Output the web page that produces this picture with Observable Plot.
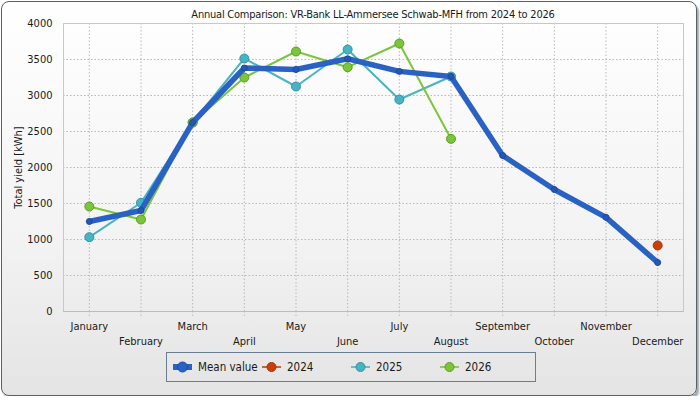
<!DOCTYPE html>
<html>
<head>
<meta charset="utf-8">
<script src="https://cdn.jsdelivr.net/npm/d3@7"></script>
<script src="https://cdn.jsdelivr.net/npm/@observablehq/plot@0.6"></script>
<style>
  html, body { margin: 0; padding: 0; background: #ffffff; }
  #frame {
    position: relative; width: 696px; height: 395px; margin: 1px 0 0 1px;
    border: 1px solid #56616c; border-radius: 8px; box-sizing: border-box;
    background: linear-gradient(#ffffff 0%, #f3f3f3 60%, #e4e4e4 100%);
    box-shadow: 2px 3px 2px rgba(0,0,0,0.35);
    font-family: "DejaVu Sans Condensed", "DejaVu Sans", sans-serif;
    overflow: hidden;
  }
  #chart { position: absolute; left: -2px; top: -2px; width: 700px; height: 400px; }
  #chart svg { max-width: none; }
  #title { position: absolute; left: 61px; width: 620px; top: 6px; text-align: center;
    font-size: 11px; letter-spacing: -0.22px; color: #1a1a1a; }
  #legend { position: absolute; left: 164px; top: 350px; width: 370px; height: 30px;
    border: 1px solid #6b7e91; box-sizing: border-box; }
  .item { position: absolute; top: 0; height: 28px; display: flex; align-items: center;
    font-size: 11.5px; color: #1a1a1a; }
  .item svg { margin-right: 6px; }
</style>
</head>
<body>
<div id="frame">
  <div id="chart"></div>
  <div id="title"></div>
  <div id="legend"></div>
</div>
<script>
const titleText = "Annual Comparison: VR-Bank LL-Ammersee Schwab-MFH from 2024 to 2026";
const yLabel = "Total yield [kWh]";
const months = ["January","February","March","April","May","June","July","August","September","October","November","December"];
const meanValues = [1250, 1403, 2625, 3382, 3361, 3510, 3335, 3265, 2167, 1695, 1308, 680];
const values2024 = [null, null, null, null, null, null, null, null, null, null, null, 917];
const values2025 = [1032, 1510, 2625, 3514, 3125, 3639, 2944, 3264, null, null, null, null];
const values2026 = [1458, 1278, 2625, 3250, 3611, 3393, 3722, 2398, null, null, null, null];
const yTicks = [0, 500, 1000, 1500, 2000, 2500, 3000, 3500, 4000];

const seriesNames = ["Mean value", "2024", "2025", "2026"];
const colors = {"Mean value": "#2a62c4", "2024": "#c8400a", "2025": "#48b3c3", "2026": "#7bc53a"};
const strokes = {"Mean value": "#1d4a9c", "2024": "#a8340a", "2025": "#3492a2", "2026": "#5b9e22"};

function rows(vals, name) {
  return vals.map((v, i) => ({month: months[i], value: v, series: name})).filter(d => d.value != null);
}
const mean = rows(meanValues, "Mean value");
const s2024 = rows(values2024, "2024");
const s2025 = rows(values2025, "2025");
const s2026 = rows(values2026, "2026");

const oddMonths = months.filter((m, i) => i % 2 === 0);
const evenMonths = months.filter((m, i) => i % 2 === 1);

const W = 700, H = 400, ML = 63, MR = 17, MT = 23, MB = 89;

const plot = Plot.plot({
  width: W, height: H,
  marginLeft: ML, marginRight: MR, marginTop: MT, marginBottom: MB,
  style: {background: "transparent", fontFamily: "'DejaVu Sans Condensed', 'DejaVu Sans', sans-serif", fontSize: "11px", color: "#1a1a1a", overflow: "visible"},
  x: {type: "point", domain: months, range: [ML, W - MR], padding: 0.5, align: 0.5, inset: 0, round: false, label: null},
  y: {domain: [0, 4000], label: null},
  marks: [
    Plot.gridY(yTicks, {stroke: "#b8b8b8", strokeOpacity: 1, strokeDasharray: "1.5,2"}),
    Plot.gridX(months, {stroke: "#b8b8b8", strokeOpacity: 1, strokeDasharray: "1.5,2"}),
    Plot.axisX({ticks: months, tickSize: 7, tickFormat: () => "", label: null, stroke: "#bdbdbd", strokeDasharray: "1.5,2"}),
    Plot.frame({stroke: "#c8c8c8"}),
    Plot.ruleY([0], {stroke: "#bcbcbc"}),
    Plot.axisY({ticks: yTicks, tickSize: 0, tickPadding: 11, tickFormat: d => String(d), label: yLabel, labelAnchor: "center", labelArrow: "none", labelOffset: 49, fontSize: 11}),
    Plot.axisX({ticks: oddMonths, tickSize: 0, tickPadding: 11, label: null, fontSize: 11}),
    Plot.axisX({ticks: evenMonths, tickSize: 0, tickPadding: 26, label: null, fontSize: 11}),
    // 2025
    Plot.line(s2025, {x: "month", y: "value", stroke: colors["2025"], strokeWidth: 2}),
    Plot.dot(s2025, {x: "month", y: "value", r: 4.5, fill: colors["2025"], stroke: strokes["2025"], strokeWidth: 1}),
    // 2026
    Plot.line(s2026, {x: "month", y: "value", stroke: colors["2026"], strokeWidth: 2}),
    Plot.dot(s2026, {x: "month", y: "value", r: 4.5, fill: colors["2026"], stroke: strokes["2026"], strokeWidth: 1}),
    // 2024
    Plot.dot(s2024, {x: "month", y: "value", r: 4.5, fill: colors["2024"], stroke: strokes["2024"], strokeWidth: 1}),
    // mean
    Plot.line(mean, {x: "month", y: "value", stroke: colors["Mean value"], strokeWidth: 5.5, strokeLinejoin: "round"}),
    Plot.dot(mean, {x: "month", y: "value", r: 3, fill: "#2558b4", stroke: strokes["Mean value"], strokeWidth: 1})
  ]
});
document.getElementById("chart").appendChild(plot);
document.getElementById("title").textContent = titleText;

const legend = document.getElementById("legend");
const lefts = [6, 95, 184, 273];
seriesNames.forEach((name, i) => {
  const item = document.createElement("div");
  item.className = "item";
  item.style.left = lefts[i] + "px";
  const thick = name === "Mean value";
  const r = thick ? 5 : 4.5;
  item.innerHTML = `<svg width="19" height="12"><line x1="0" x2="19" y1="6" y2="6" stroke="${colors[name]}" stroke-width="${thick ? 6 : 2}" stroke-opacity="${thick ? 1 : 0.8}"/><circle cx="9.5" cy="6" r="${r}" fill="${colors[name]}" stroke="${strokes[name]}" stroke-width="1"/></svg><span>${name}</span>`;
  legend.appendChild(item);
});
</script>
</body>
</html>
